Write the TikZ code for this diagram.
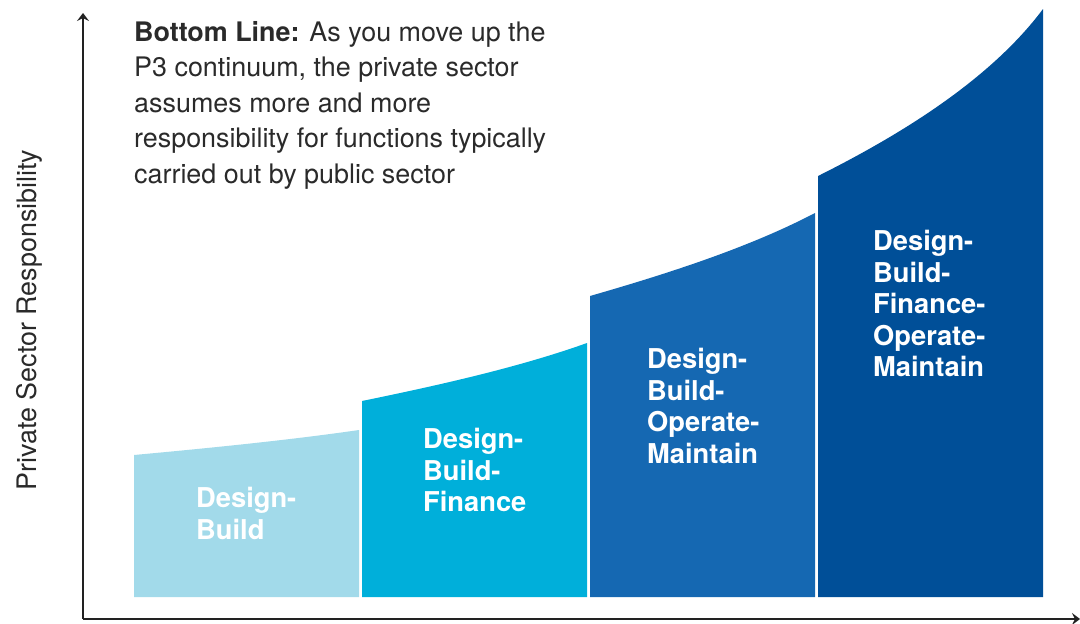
\documentclass[tikz,border=0pt]{standalone}
\usepackage{fontspec}
\setmainfont{TeX Gyre Heros}
\usetikzlibrary{arrows.meta}
\definecolor{axisgray}{HTML}{222222}
\definecolor{textgray}{HTML}{2A2A2A}
\definecolor{barA}{HTML}{A2DAEA}
\definecolor{barB}{HTML}{00AFDA}
\definecolor{barC}{HTML}{1568B2}
\definecolor{barD}{HTML}{004F98}
\tikzset{
  axisline/.style={draw=axisgray, line width=1.6pt, -{Stealth[length=8pt,width=12pt,inset=3pt]}},
  barlabel/.style={anchor=north west, inner sep=0pt, align=left, text=white,
    font=\fontsize{27.3}{31.5}\selectfont\bfseries},
  maintext/.style={anchor=north west, inner sep=0pt, align=left, text=textgray,
    font=\fontsize{26.9}{35.5}\selectfont},
  ylabel/.style={rotate=90, inner sep=0pt, text=textgray, font=\fontsize{26.9}{30}\selectfont}
}
\begin{document}
\begin{tikzpicture}[x=1pt,y=-1pt]
\useasboundingbox (0,0) rectangle (1080,624);
% bars
\fill[barA] (134,597) -- (134,455) .. controls (210,448) and (290,440) .. (359,430) -- (359,597) -- cycle;
\fill[barB] (362,597) -- (362,401) .. controls (440,385) and (520,367) .. (587,343) -- (587,597) -- cycle;
\fill[barC] (590,597) -- (590,296) .. controls (670,273) and (750,247) .. (815,213) -- (815,597) -- cycle;
\fill[barD] (818,597) -- (818,176) .. controls (900,135) and (990,80) .. (1043,9) -- (1043,597) -- cycle;
% axes
\coordinate (origin) at (83,619);
\coordinate (ytip) at (83,13);
\coordinate (xtip) at (1080,619);
\draw[axisline] (origin) -- (ytip);
\draw[axisline] (origin) -- (xtip);
% labels
\node[barlabel] (db) at (196,487) {Design-\\Build};
\node[barlabel] (dbf) at (423,428) {Design-\\Build-\\Finance};
\node[barlabel] (dbom) at (647,348) {Design-\\Build-\\Operate-\\Maintain};
\node[barlabel] (dbfom) at (873,230) {Design-\\Build-\\Finance-\\Operate-\\Maintain};
\node[maintext] (bottomline) at (134,21) {\textbf{Bottom Line:} As you move up the\\P3 continuum, the private sector\\assumes more and more\\responsibility for functions typically\\carried out by public sector};
\node[ylabel] (ylab) at (29,320) {Private Sector Responsibility};
\end{tikzpicture}
\end{document}
